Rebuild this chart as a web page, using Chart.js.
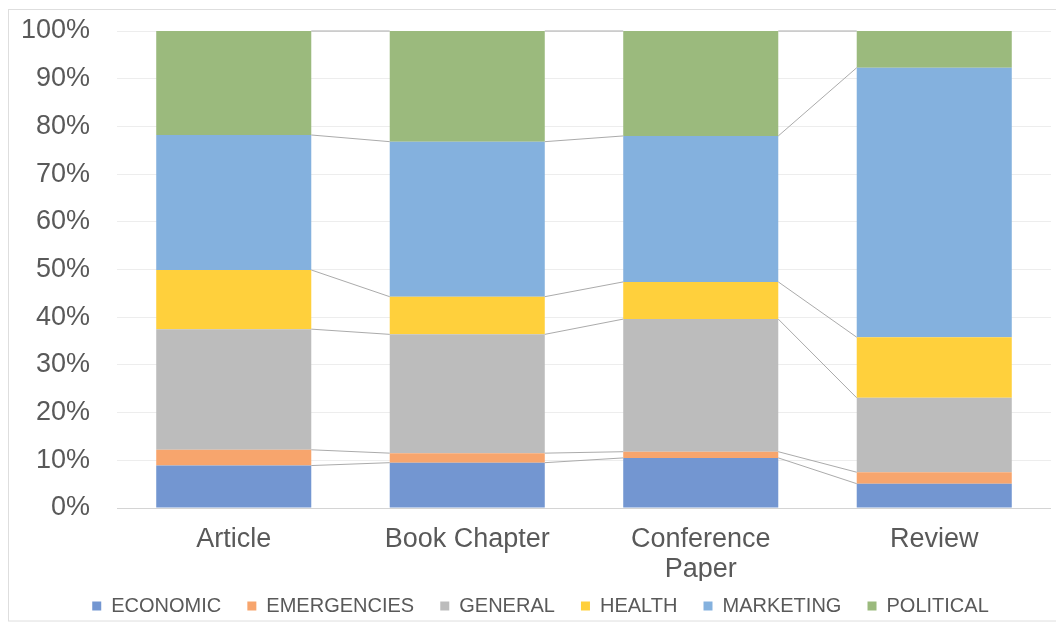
<!DOCTYPE html>
<html>
<head>
<meta charset="utf-8">
<title>Topics by document type</title>
<script src="https://cdn.jsdelivr.net/npm/chart.js@4/dist/chart.umd.min.js"></script>
<style>
  html, body { margin: 0; padding: 0; background: #ffffff; }
  #wrap { position: relative; width: 1056px; height: 626px; }
</style>
</head>
<body>
<div id="wrap"><canvas id="chart" width="1056" height="626"></canvas></div>
<script>
// Document types on the x axis
const categories = ['Article', 'Book Chapter', ['Conference', 'Paper'], 'Review'];

// Share of each topic per document type (percent, each column sums to 100)
const economic    = [8.9, 9.5, 10.5, 5.1];
const emergencies = [3.3, 2.0, 1.3, 2.4];
const general     = [25.3, 24.9, 27.8, 15.6];
const health      = [12.4, 7.9, 7.8, 12.7];
const marketing   = [28.3, 32.5, 30.6, 56.5];
const political   = [21.8, 23.2, 22.0, 7.7];

const seriesNames = ['ECONOMIC', 'EMERGENCIES', 'GENERAL', 'HEALTH', 'MARKETING', 'POLITICAL'];
const seriesData = [economic, emergencies, general, health, marketing, political];
const seriesColors = ['#7396d1', '#f7a56d', '#bcbcbc', '#ffd03c', '#84b1de', '#9bba7d'];

// Y axis ticks
const yTicks = [0, 10, 20, 30, 40, 50, 60, 70, 80, 90, 100];

const FONT = '"Liberation Sans", Arial, Helvetica, sans-serif';
const TEXT = '#595959';

// Frame around the whole chart
const framePlugin = {
  id: 'frame',
  beforeDraw(chart) {
    const ctx = chart.ctx;
    ctx.save();
    ctx.fillStyle = '#ffffff';
    ctx.fillRect(0, 0, chart.width, chart.height);
    ctx.strokeStyle = '#dedede';
    ctx.lineWidth = 1;
    ctx.strokeRect(8.5, 9.5, chart.width + 20, 611.5);
    ctx.restore();
  }
};

// Nudge the legend row a little to the right of the canvas centre
const legendShiftPlugin = {
  id: 'legendShift',
  afterLayout(chart) {
    const lg = chart.legend;
    if (lg) { lg.left += 15; lg.right += 15; }
  }
};

// Series lines joining the top of each segment to the same segment in the next column
const seriesLinesPlugin = {
  id: 'seriesLines',
  afterDatasetsDraw(chart) {
    const ctx = chart.ctx;
    ctx.save();
    ctx.strokeStyle = '#ababab';
    ctx.lineWidth = 1;
    chart.data.datasets.forEach((ds, i) => {
      const meta = chart.getDatasetMeta(i);
      if (meta.hidden) return;
      const bars = meta.data;
      for (let j = 0; j < bars.length - 1; j++) {
        const a = bars[j], b = bars[j + 1];
        ctx.beginPath();
        ctx.moveTo(a.x + a.width / 2, a.y);
        ctx.lineTo(b.x - b.width / 2, b.y);
        ctx.stroke();
      }
    });
    ctx.restore();
  }
};

new Chart(document.getElementById('chart'), {
  type: 'bar',
  data: {
    labels: categories,
    datasets: seriesNames.map((name, i) => ({
      label: name,
      data: seriesData[i],
      backgroundColor: seriesColors[i],
      borderWidth: 0,
      barPercentage: 0.664,
      categoryPercentage: 1.0
    }))
  },
  options: {
    responsive: false,
    animation: false,
    layout: { padding: { left: 0, right: 5, top: 31, bottom: 0 } },
    scales: {
      x: {
        stacked: true,
        grid: { display: false, drawTicks: false },
        border: { display: false },
        ticks: {
          color: TEXT,
          padding: 17,
          maxRotation: 0,
          autoSkip: false,
          font: { family: FONT, size: 27, lineHeight: 1.1 }
        },
        afterFit(scale) { scale.height = 73; }
      },
      y: {
        stacked: true,
        min: 0,
        max: 100,
        afterBuildTicks(scale) { scale.ticks = yTicks.map(v => ({ value: v })); },
        grid: {
          drawTicks: true,
          tickLength: 27,
          tickColor: 'rgba(0,0,0,0)',
          color: c => (c.tick && c.tick.value === 0 ? '#d4d4d4' : '#ededed'),
          lineWidth: 1
        },
        border: { display: false },
        ticks: {
          color: TEXT,
          padding: 0,
          font: { family: FONT, size: 27 },
          callback: v => v + '%'
        },
        afterFit(scale) { scale.width = 117; }
      }
    },
    plugins: {
      legend: {
        position: 'bottom',
        labels: {
          color: TEXT,
          boxWidth: 9,
          boxHeight: 9,
          padding: 15,
          font: { family: FONT, size: 20 },
          // extra trailing room after each name keeps the entries spread out
          generateLabels(chart) {
            const items = Chart.defaults.plugins.legend.labels.generateLabels(chart);
            items.forEach((it, i) => {
              if (i < items.length - 1) it.text = it.text + '  ';
              it.lineWidth = 0;
            });
            return items;
          }
        }
      },
      tooltip: { enabled: false }
    }
  },
  plugins: [framePlugin, legendShiftPlugin, seriesLinesPlugin]
});
</script>
</body>
</html>
